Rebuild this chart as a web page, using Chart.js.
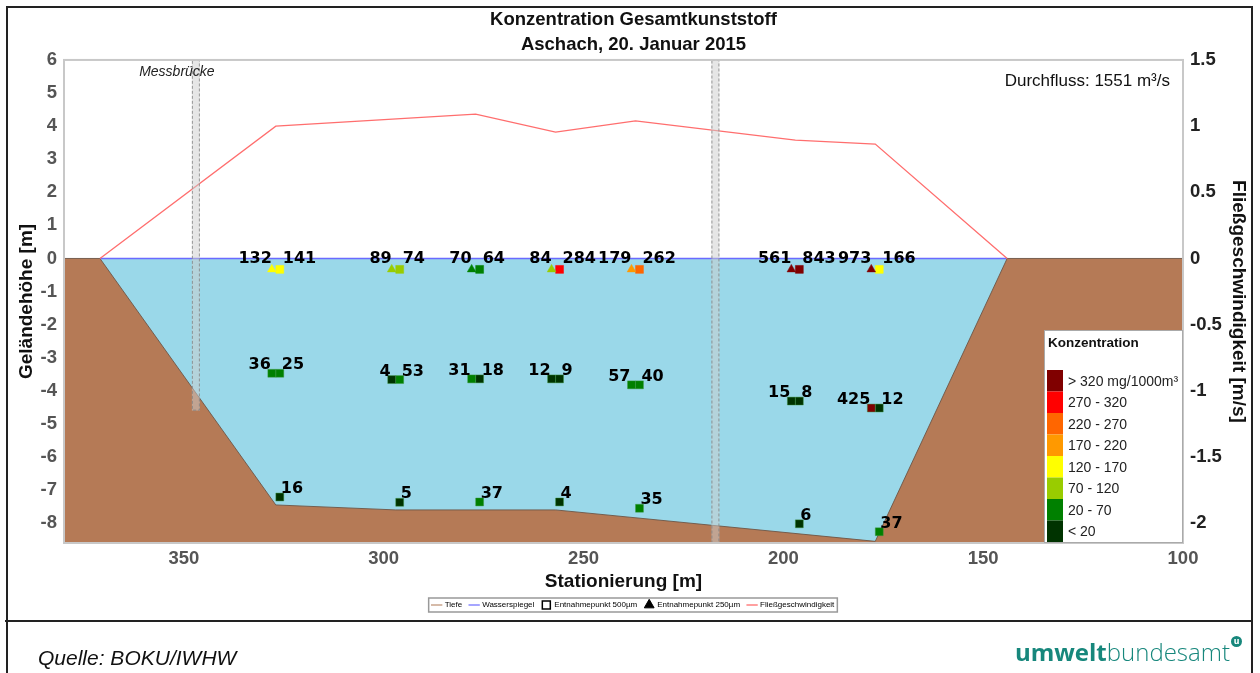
<!DOCTYPE html>
<html><head><meta charset="utf-8">
<script src="https://cdn.jsdelivr.net/npm/chart.js@4"></script>
<style>
html,body{margin:0;padding:0;background:#fff;}
#wrap{position:relative;width:1260px;height:673px;overflow:hidden;background:#fff;}
#c{position:absolute;left:0;top:0;}
.ln{position:absolute;background:#222;}
#src{position:absolute;left:38px;top:646px;line-height:21px;font:italic 21px "Liberation Sans",Arial,sans-serif;color:#111;white-space:nowrap;}
#logo{position:absolute;right:30px;top:640px;line-height:24px;font-size:24px;font-family:"Open Sans","Noto Sans",sans-serif;color:#17877c;white-space:nowrap;}
#logo b{font-weight:700;}
#logo span{font-weight:300;}
#dot{position:absolute;left:1231px;top:636px;width:11px;height:11px;border-radius:50%;background:#17877c;color:#fff;font:bold 8px "DejaVu Sans",sans-serif;line-height:11px;text-align:center;}
</style></head>
<body>
<div id="wrap">
<canvas id="c" width="1260" height="673"></canvas>
<div class="ln" style="left:7px;top:6px;width:1246px;height:2px;"></div>
<div class="ln" style="left:6px;top:6px;width:2px;height:667px;"></div>
<div class="ln" style="left:1251px;top:6px;width:2px;height:667px;"></div>
<div class="ln" style="left:5px;top:620px;width:1248px;height:2px;"></div>
<div id="src">Quelle: BOKU/IWHW</div>
<div id="logo"><b>umwelt</b><span>bundesamt</span></div>
<div id="dot">u</div>
</div>
<script>
// ---- data ----
const xTicks = [350, 300, 250, 200, 150, 100];
const yTicks = [6, 5, 4, 3, 2, 1, 0, -1, -2, -3, -4, -5, -6, -7, -8];
const y2Ticks = [1.5, 1, 0.5, 0, -0.5, -1, -1.5, -2];

// terrain profile (Tiefe)
const groundX = [380, 371, 327, 297, 257, 177, 144, 100];
const groundY = [0, 0, -7.45, -7.6, -7.6, -8.55, 0, 0];
// water surface (Wasserspiegel)
const waterX = [371, 144];
const waterY = [0, 0];
// flow velocity (Fließgeschwindigkeit)
const velX = [371, 327, 277, 257, 237, 197, 177, 144];
const velY = [0, 1.0, 1.09, 0.955, 1.04, 0.894, 0.864, 0];

// sampling points
const topTriX = [328, 298, 278, 258, 238, 198, 178];
const topSqX  = [326, 296, 276, 256, 236, 196, 176];
const topY    = [-0.33, -0.33, -0.33, -0.33, -0.33, -0.33, -0.33];
const top250  = [132, 89, 70, 84, 179, 561, 973];
const top500  = [141, 74, 64, 284, 262, 843, 166];

const midLX = [328, 298, 278, 258, 238, 198, 178];
const midRX = [326, 296, 276, 256, 236, 196, 176];
const midY  = [-3.47, -3.66, -3.64, -3.64, -3.82, -4.31, -4.52];
const midL  = [36, 4, 31, 12, 57, 15, 425];
const midR  = [25, 53, 18, 9, 40, 8, 12];

const botX = [326, 296, 276, 256, 236, 196, 176];
const botY = [-7.21, -7.37, -7.36, -7.36, -7.55, -8.02, -8.26];
const bot  = [16, 5, 37, 4, 35, 6, 37];

// concentration classes
const classLimits = [20, 70, 120, 170, 220, 270, 320];
const classColors = ['#003300', '#008000', '#99CC00', '#FFFF00', '#FF9900', '#FF6600', '#FF0000', '#800000'];
const classLabels = ['> 320 mg/1000m³', '270 - 320', '220 - 270', '170 - 220', '120 - 170', '70 - 120', '20 - 70', '< 20'];

// Messbrücke bands
const bridgeFrom = [348, 218];
const bridgeTo = [346, 216];
const bridgeBottom = [-4.6, -8.6];

function colorFor(v) { let i = 0; while (i < classLimits.length && v > classLimits[i]) i++; return classColors[i]; }
function pts(xs, ys) { return xs.map((x, i) => ({x: x, y: ys[i]})); }

const FONT = '"Liberation Sans", Arial, sans-serif';

const overlay = {
  id: 'overlay',
  afterDatasetsDraw(chart) {
    const ctx = chart.ctx, xs = chart.scales.x, ys = chart.scales.y, ca = chart.chartArea;
    // bridges
    ctx.save();
    for (let i = 0; i < bridgeFrom.length; i++) {
      const x1 = xs.getPixelForValue(bridgeFrom[i]), x2 = xs.getPixelForValue(bridgeTo[i]);
      const y1 = ca.top, y2 = ys.getPixelForValue(bridgeBottom[i]);
      ctx.fillStyle = 'rgba(205,205,205,0.5)';
      ctx.fillRect(x1, y1, x2 - x1, y2 - y1);
      ctx.setLineDash([3, 2]);
      ctx.strokeStyle = 'rgba(130,130,130,0.8)';
      ctx.lineWidth = 1;
      ctx.strokeRect(x1 + 0.5, y1 + 0.5, x2 - x1 - 1, y2 - y1 - 1);
    }
    ctx.restore();
    // plot frame
    ctx.save();
    ctx.strokeStyle = '#c8c8c8';
    ctx.lineWidth = 2;
    ctx.strokeRect(ca.left, ca.top, ca.right - ca.left, ca.bottom - ca.top);
    ctx.restore();
    // point labels
    ctx.save();
    ctx.font = 'bold 16px "DejaVu Sans", Verdana, sans-serif';
    ctx.fillStyle = '#000';
    ctx.textBaseline = 'alphabetic';
    chart.data.datasets.forEach((ds, i) => {
      if (!ds.pointLabels) return;
      const meta = chart.getDatasetMeta(i);
      ctx.textAlign = ds.labelAlign;
      meta.data.forEach((p, j) => {
        ctx.fillText(String(ds.pointLabels[j]), p.x + ds.labelDx, p.y + ds.labelDy);
      });
    });
    ctx.restore();
    // concentration legend
    ctx.save();
    const bl = ca.right - 139, bt = ca.bottom - 213;
    ctx.fillStyle = '#fff';
    ctx.fillRect(bl, bt, ca.right - bl, ca.bottom - bt);
    ctx.strokeStyle = '#aaa';
    ctx.lineWidth = 1;
    ctx.strokeRect(bl + 0.5, bt + 0.5, ca.right - bl - 1, ca.bottom - bt - 1);
    ctx.fillStyle = '#111';
    ctx.font = 'bold 13.5px ' + FONT;
    ctx.textAlign = 'left';
    ctx.textBaseline = 'middle';
    ctx.fillText('Konzentration', bl + 4, bt + 13);
    const rowH = 21.5, top0 = ca.bottom - 1 - rowH * classLabels.length;
    ctx.font = '14px ' + FONT;
    for (let k = 0; k < classLabels.length; k++) {
      ctx.fillStyle = classColors[classColors.length - 1 - k];
      ctx.fillRect(bl + 3, top0 + k * rowH, 16, rowH);
      ctx.fillStyle = '#222';
      ctx.fillText(classLabels[k], bl + 24, top0 + k * rowH + rowH / 2 + 1);
    }
    ctx.restore();
    // texts
    ctx.save();
    ctx.fillStyle = '#222';
    ctx.font = 'italic 14px ' + FONT;
    ctx.textAlign = 'center';
    ctx.textBaseline = 'middle';
    ctx.fillText('Messbrücke', (xs.getPixelForValue(bridgeFrom[0]) + xs.getPixelForValue(bridgeTo[0])) / 2 - 19, ca.top + 12);
    ctx.font = '17px ' + FONT;
    ctx.textAlign = 'right';
    ctx.fillStyle = '#111';
    ctx.fillText('Durchfluss: 1551 m³/s', ca.right - 13, ca.top + 21);
    ctx.restore();
  },
  afterDraw(chart) {
    const lg = chart.legend;
    if (!lg || !lg.legendHitBoxes || !lg.legendHitBoxes.length) return;
    const hb = lg.legendHitBoxes;
    const l = Math.min(...hb.map(h => h.left)) - 4;
    const r = Math.max(...hb.map(h => h.left + h.width)) + 3;
    const t = Math.min(...hb.map(h => h.top)) - 3;
    const b = Math.max(...hb.map(h => h.top + h.height)) + 3;
    const ctx = chart.ctx;
    ctx.save();
    ctx.strokeStyle = '#999';
    ctx.lineWidth = 1.5;
    ctx.strokeRect(l, t, r - l, b - t);
    ctx.restore();
  }
};

const tickFont = {size: 18.5, weight: 'bold', family: FONT};
const titleFont = {size: 19, weight: 'bold', family: FONT};

const legendItems = [
  {text: 'Tiefe', pointStyle: 'line', fillStyle: '#c9a48c', strokeStyle: '#c9a48c', lineWidth: 1.5},
  {text: 'Wasserspiegel', pointStyle: 'line', fillStyle: '#8888ff', strokeStyle: '#8888ff', lineWidth: 1.5},
  {text: 'Entnahmepunkt 500µm', pointStyle: 'rect', fillStyle: '#fff', strokeStyle: '#000', lineWidth: 1.5},
  {text: 'Entnahmepunkt 250µm', pointStyle: 'triangle', fillStyle: '#000', strokeStyle: '#000', lineWidth: 1},
  {text: 'Fließgeschwindigkeit', pointStyle: 'line', fillStyle: '#ff8080', strokeStyle: '#ff8080', lineWidth: 1.5}
];

new Chart(document.getElementById('c'), {
  type: 'line',
  data: {
    datasets: [
      {label: 'Entnahmepunkt 250µm', data: pts(topTriX, topY), showLine: false, pointStyle: 'triangle', pointRadius: 5,
       pointBackgroundColor: top250.map(colorFor), pointBorderColor: top250.map(colorFor), pointBorderWidth: 0.5,
       pointLabels: top250, labelAlign: 'right', labelDx: 0, labelDy: -6, order: 0},
      {label: 'Entnahmepunkt 500µm', data: pts(topSqX, topY), showLine: false, pointStyle: 'rect', pointRadius: 5.6,
       pointBackgroundColor: top500.map(colorFor), pointBorderColor: top500.map(colorFor), pointBorderWidth: 0.5,
       pointLabels: top500, labelAlign: 'left', labelDx: 3, labelDy: -6, order: 0},
      {label: 'Mitte links', data: pts(midLX, midY), showLine: false, pointStyle: 'rect', pointRadius: 5.6,
       pointBackgroundColor: midL.map(colorFor), pointBorderColor: 'rgba(60,150,60,0.6)', pointBorderWidth: 0.7,
       pointLabels: midL, labelAlign: 'right', labelDx: -1, labelDy: -4, order: 0},
      {label: 'Mitte rechts', data: pts(midRX, midY), showLine: false, pointStyle: 'rect', pointRadius: 5.6,
       pointBackgroundColor: midR.map(colorFor), pointBorderColor: 'rgba(60,150,60,0.6)', pointBorderWidth: 0.7,
       pointLabels: midR, labelAlign: 'left', labelDx: 2, labelDy: -4, order: 0},
      {label: 'Sohle', data: pts(botX, botY), showLine: false, pointStyle: 'rect', pointRadius: 5.6,
       pointBackgroundColor: bot.map(colorFor), pointBorderColor: 'rgba(60,150,60,0.6)', pointBorderWidth: 0.7,
       pointLabels: bot, labelAlign: 'left', labelDx: 1, labelDy: -4, order: 0},
      {label: 'Fließgeschwindigkeit', data: pts(velX, velY), yAxisID: 'y2', borderColor: '#ff6e6e', borderWidth: 1.3,
       pointRadius: 0, fill: false, tension: 0, order: 1},
      {label: 'Tiefe', data: pts(groundX, groundY), borderColor: 'rgba(110,85,70,0.9)', borderWidth: 1,
       backgroundColor: '#b57a56', fill: 'start', pointRadius: 0, tension: 0, order: 2},
      {label: 'Wasserspiegel', data: pts(waterX, waterY), borderColor: '#6a6aff', borderWidth: 1.5,
       backgroundColor: '#9ad8e9', fill: 'start', pointRadius: 0, tension: 0, order: 3}
    ]
  },
  options: {
    responsive: false,
    devicePixelRatio: 1,
    animation: false,
    layout: {padding: {left: 7, right: 0, top: 0, bottom: 54}},
    plugins: {
      tooltip: {enabled: false},
      title: {display: true, text: ['Konzentration Gesamtkunststoff', 'Aschach, 20. Januar 2015'],
        color: '#111', font: {size: 18.5, weight: 'bold', family: FONT, lineHeight: 1.35}, padding: {top: 7.5, bottom: 2.5}},
      legend: {
        position: 'bottom',
        onClick: null,
        labels: {
          usePointStyle: true, boxWidth: 10, boxHeight: 8, padding: 8,
          font: {size: 8, family: FONT}, color: '#333',
          generateLabels: () => legendItems.map(it => Object.assign({hidden: false}, it))
        }
      }
    },
    scales: {
      x: {
        type: 'linear', reverse: true, min: 100, max: 380,
        grid: {display: false, drawTicks: false}, border: {display: false},
        afterBuildTicks: a => { a.ticks = xTicks.map(v => ({value: v})); },
        ticks: {padding: 5, color: '#555', font: tickFont, callback: v => String(v)},
        title: {display: true, text: 'Stationierung [m]', color: '#111', font: titleFont, padding: {top: 0, bottom: 0}},
        afterFit: s => { s.height = 50; }
      },
      y: {
        position: 'left', min: -8.6, max: 6,
        grid: {display: false, drawTicks: false}, border: {display: false},
        afterBuildTicks: a => { a.ticks = yTicks.map(v => ({value: v})); },
        ticks: {padding: 7, color: '#555', font: tickFont, callback: v => String(v)},
        title: {display: true, text: 'Geländehöhe [m]', color: '#111', font: titleFont, padding: {top: 8.5, bottom: 0}},
        afterFit: s => { s.width = 57; }
      },
      y2: {
        position: 'right', min: -2.15, max: 1.5,
        grid: {display: false, drawTicks: false}, border: {display: false},
        afterBuildTicks: a => { a.ticks = y2Ticks.map(v => ({value: v})); },
        ticks: {padding: 7, color: '#222', font: tickFont, callback: v => String(v)},
        title: {display: true, text: 'Fließgeschwindigkeit [m/s]', color: '#111', font: titleFont, padding: {top: 10.5, bottom: 0}},
        afterFit: s => { s.width = 77; }
      }
    }
  },
  plugins: [overlay]
});
</script>
</body></html>
